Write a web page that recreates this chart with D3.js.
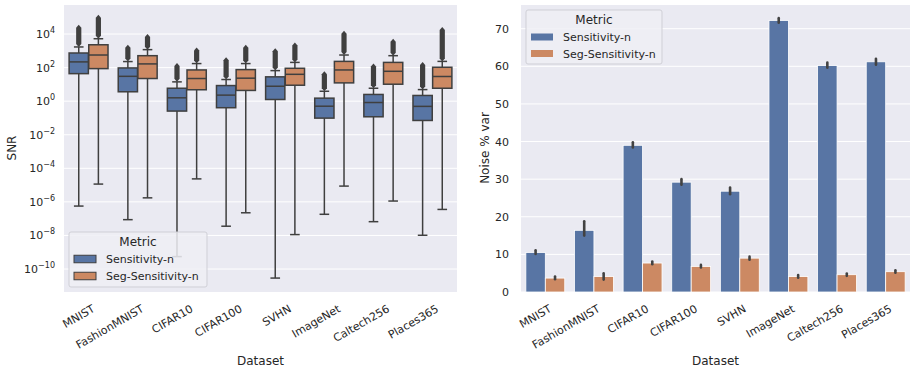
<!DOCTYPE html>
<html>
<head>
<meta charset="utf-8">
<script src="https://cdn.jsdelivr.net/npm/d3@7"></script>
<style>
  body { margin: 0; background: #fff; }
  svg { font-family: "DejaVu Sans", sans-serif; }
</style>
</head>
<body>
<svg id="chart" width="910" height="370"></svg>
<script>
// categories and series
var datasets = ["MNIST", "FashionMNIST", "CIFAR10", "CIFAR100", "SVHN", "ImageNet", "Caltech256", "Places365"];
var metrics = ["Sensitivity-n", "Seg-Sensitivity-n"];

// SNR box stats, log10 values: q1, median, q3, lower whisker, upper whisker, top outlier
var sensQ1  = [1.64, 0.56, -0.59, -0.39, 0.10, -1.01, -0.93, -1.15];
var sensMed = [2.34, 1.48, 0.20, 0.36, 0.89, -0.30, -0.08, -0.31];
var sensQ3  = [2.87, 1.98, 0.77, 0.93, 1.45, 0.18, 0.40, 0.34];
var sensLo  = [-6.25, -7.06, -9.26, -7.45, -10.54, -6.74, -7.18, -7.99];
var sensHi  = [3.23, 2.36, 1.15, 1.29, 1.82, 0.59, 0.77, 0.69];
var sensOut = [4.55, 3.36, 2.28, 2.61, 3.15, 1.78, 2.24, 2.34];

var segQ1  = [1.94, 1.35, 0.68, 0.64, 0.95, 1.09, 1.01, 0.77];
var segMed = [2.75, 2.22, 1.35, 1.37, 1.60, 1.86, 1.78, 1.47];
var segQ3  = [3.36, 2.71, 1.86, 1.88, 1.96, 2.37, 2.31, 2.02];
var segLo  = [-4.94, -5.76, -4.63, -6.65, -7.95, -5.06, -5.95, -6.45];
var segHi  = [3.72, 3.07, 2.24, 2.24, 2.31, 2.75, 2.71, 2.37];
var segOut = [5.15, 4.00, 3.20, 3.36, 3.50, 4.20, 3.72, 4.42];

// Noise % var bars with confidence intervals
var sensVar   = [10.5, 16.4, 39.0, 29.2, 26.8, 72.2, 60.2, 61.2];
var sensVarLo = [10.1, 15.0, 38.4, 28.5, 26.0, 71.6, 59.6, 60.4];
var sensVarHi = [11.1, 18.8, 39.8, 30.0, 27.8, 72.8, 61.0, 62.0];
var segVar    = [3.7, 4.1, 7.7, 6.8, 9.0, 4.1, 4.6, 5.4];
var segVarLo  = [3.4, 3.3, 7.4, 6.5, 8.6, 3.8, 4.3, 5.1];
var segVarHi  = [4.1, 5.0, 8.1, 7.2, 9.4, 4.5, 4.9, 5.8];

var logTicks = [4, 2, 0, -2, -4, -6, -8, -10];
var varTicks = [0, 10, 20, 30, 40, 50, 60, 70];

var colors = ["#5875a4", "#cc8963"];
var bg = "#eaeaf2", ink = "#262626", gray = "#3f3f3f";

var svg = d3.select("#chart");

function pow10(v) { return Math.pow(10, v); }

// ---------- left panel: boxplots ----------
var L = {x0: 64, x1: 457, y0: 5, y1: 292};
var xL = d3.scaleBand().domain(datasets).range([L.x0, L.x1]);
var hueL = d3.scaleBand().domain(metrics).range([0, xL.bandwidth()]).paddingOuter(0.25);
var yL = d3.scaleLog().domain([pow10(-11.37), pow10(5.73)]).range([L.y1, L.y0]);

var left = svg.append("g");
left.append("rect").attr("x", L.x0).attr("y", L.y0).attr("width", L.x1 - L.x0).attr("height", L.y1 - L.y0).attr("fill", bg);
left.selectAll(".grid").data(logTicks).enter().append("line")
  .attr("x1", L.x0).attr("x2", L.x1)
  .attr("y1", d => yL(pow10(d))).attr("y2", d => yL(pow10(d)))
  .attr("stroke", "#fff").attr("stroke-width", 1);

var boxes = [];
datasets.forEach(function (d, i) {
  boxes.push({ds: d, m: metrics[0], q1: sensQ1[i], med: sensMed[i], q3: sensQ3[i], lo: sensLo[i], hi: sensHi[i], out: sensOut[i]});
  boxes.push({ds: d, m: metrics[1], q1: segQ1[i], med: segMed[i], q3: segQ3[i], lo: segLo[i], hi: segHi[i], out: segOut[i]});
});

var bw = hueL.bandwidth() * 0.98;
var bx = left.selectAll(".box").data(boxes).enter().append("g")
  .attr("transform", d => "translate(" + (xL(d.ds) + hueL(d.m) + hueL.bandwidth() / 2) + ",0)");

// whiskers
bx.append("line").attr("x1", 0).attr("x2", 0)
  .attr("y1", d => yL(pow10(d.q1))).attr("y2", d => yL(pow10(d.lo)))
  .attr("stroke", gray).attr("stroke-width", 1.5);
bx.append("line").attr("x1", 0).attr("x2", 0)
  .attr("y1", d => yL(pow10(d.q3))).attr("y2", d => yL(pow10(d.hi)))
  .attr("stroke", gray).attr("stroke-width", 1.5);
// caps
bx.append("line").attr("x1", -bw / 4).attr("x2", bw / 4)
  .attr("y1", d => yL(pow10(d.lo))).attr("y2", d => yL(pow10(d.lo)))
  .attr("stroke", gray).attr("stroke-width", 1.5);
bx.append("line").attr("x1", -bw / 4).attr("x2", bw / 4)
  .attr("y1", d => yL(pow10(d.hi))).attr("y2", d => yL(pow10(d.hi)))
  .attr("stroke", gray).attr("stroke-width", 1.5);
// outlier column (dense diamonds)
bx.append("path")
  .attr("d", function (d) {
    var top = yL(pow10(d.out)), bot = yL(pow10(d.hi)) - 1;
    return "M0," + top + "L2.6," + (top + 3) + "L2.6," + (bot - 2) + "L0," + (bot + 1) +
      "L-2.6," + (bot - 2) + "L-2.6," + (top + 3) + "Z";
  })
  .attr("fill", gray);
// box
bx.append("rect").attr("x", -bw / 2).attr("width", bw)
  .attr("y", d => yL(pow10(d.q3)))
  .attr("height", d => yL(pow10(d.q1)) - yL(pow10(d.q3)))
  .attr("fill", d => colors[metrics.indexOf(d.m)])
  .attr("stroke", gray).attr("stroke-width", 1.5);
bx.append("line").attr("x1", -bw / 2).attr("x2", bw / 2)
  .attr("y1", d => yL(pow10(d.med))).attr("y2", d => yL(pow10(d.med)))
  .attr("stroke", gray).attr("stroke-width", 1.5);

// y tick labels 10^n
var ytl = left.selectAll(".ytl").data(logTicks).enter().append("text")
  .attr("x", 55).attr("y", d => yL(pow10(d)) + 4)
  .attr("text-anchor", "end").attr("fill", ink).style("font-size", "11px");
ytl.append("tspan").text("10");
ytl.append("tspan").attr("dy", -5).style("font-size", "8px")
  .text(d => (d < 0 ? "\u2212" + (-d) : d));

left.append("text").attr("transform", "translate(16,148) rotate(-90)")
  .attr("text-anchor", "middle").attr("fill", ink).style("font-size", "12px").text("SNR");

// ---------- right panel: bars ----------
var R = {x0: 521, x1: 910, y0: 5, y1: 292};
var xR = d3.scaleBand().domain(datasets).range([R.x0, R.x1]);
var hueR = d3.scaleBand().domain(metrics).range([0, xR.bandwidth()]).paddingOuter(0.25);
var yR = d3.scaleLinear().domain([0, 76.3]).range([R.y1, R.y0]);

var right = svg.append("g");
right.append("rect").attr("x", R.x0).attr("y", R.y0).attr("width", R.x1 - R.x0).attr("height", R.y1 - R.y0).attr("fill", bg);
right.selectAll(".grid").data(varTicks).enter().append("line")
  .attr("x1", R.x0).attr("x2", R.x1)
  .attr("y1", d => yR(d)).attr("y2", d => yR(d))
  .attr("stroke", "#fff").attr("stroke-width", 1);

var bars = [];
datasets.forEach(function (d, i) {
  bars.push({ds: d, m: metrics[0], v: sensVar[i], lo: sensVarLo[i], hi: sensVarHi[i]});
  bars.push({ds: d, m: metrics[1], v: segVar[i], lo: segVarLo[i], hi: segVarHi[i]});
});

right.selectAll(".bar").data(bars).enter().append("rect")
  .attr("x", d => xR(d.ds) + hueR(d.m))
  .attr("width", hueR.bandwidth())
  .attr("y", d => yR(d.v))
  .attr("height", d => yR(0) - yR(d.v))
  .attr("fill", d => colors[metrics.indexOf(d.m)])
  .attr("stroke", "#fff").attr("stroke-width", 0.8);

right.selectAll(".err").data(bars).enter().append("line")
  .attr("x1", d => xR(d.ds) + hueR(d.m) + hueR.bandwidth() / 2)
  .attr("x2", d => xR(d.ds) + hueR(d.m) + hueR.bandwidth() / 2)
  .attr("y1", d => yR(d.lo)).attr("y2", d => yR(d.hi))
  .attr("stroke", "#424242").attr("stroke-width", 2.6).attr("stroke-linecap", "round");

right.selectAll(".ytl").data(varTicks).enter().append("text")
  .attr("x", 509).attr("y", d => yR(d) + 4)
  .attr("text-anchor", "end").attr("fill", ink).style("font-size", "11px")
  .text(d => d);

right.append("text").attr("transform", "translate(489,148) rotate(-90)")
  .attr("text-anchor", "middle").attr("fill", ink).style("font-size", "12px").text("Noise % var");

// ---------- shared: x labels ----------
[[xL, L], [xR, R]].forEach(function (p) {
  var xs = p[0], P = p[1];
  svg.append("g").selectAll("text").data(datasets).enter().append("text")
    .attr("transform", d => "translate(" + (xs(d) + xs.bandwidth() / 2 + 7) + "," + (P.y1 + 19) + ") rotate(-30)")
    .attr("text-anchor", "end").attr("fill", ink).style("font-size", "11px")
    .text(d => d);
  svg.append("text").attr("x", (P.x0 + P.x1) / 2).attr("y", 365)
    .attr("text-anchor", "middle").attr("fill", ink).style("font-size", "12px").text("Dataset");
});

// ---------- legends ----------
function legend(g, x, y, w, h, titleY, rows, patchH, outlined) {
  g.append("rect").attr("x", x).attr("y", y).attr("width", w).attr("height", h)
    .attr("rx", 2).attr("fill", "#eeeef4").attr("fill-opacity", 0.85)
    .attr("stroke", "#cfcfd6").attr("stroke-width", 1);
  g.append("text").attr("x", x + w / 2).attr("y", titleY)
    .attr("text-anchor", "middle").attr("fill", ink).style("font-size", "12px").text("Metric");
  metrics.forEach(function (m, i) {
    g.append("rect").attr("x", x + 5).attr("y", rows[i] - patchH / 2)
      .attr("width", 22).attr("height", patchH)
      .attr("fill", colors[i])
      .attr("stroke", outlined ? gray : "none").attr("stroke-width", outlined ? 1 : 0);
    g.append("text").attr("x", x + 37).attr("y", rows[i] + 4)
      .attr("fill", ink).style("font-size", "11px").text(m);
  });
}
legend(left.append("g"), 69, 232, 138, 55, 246, [259, 276], 7.5, true);
legend(right.append("g"), 526, 10, 136, 54, 24, [37, 53.5], 7, false);
</script>
</body>
</html>
